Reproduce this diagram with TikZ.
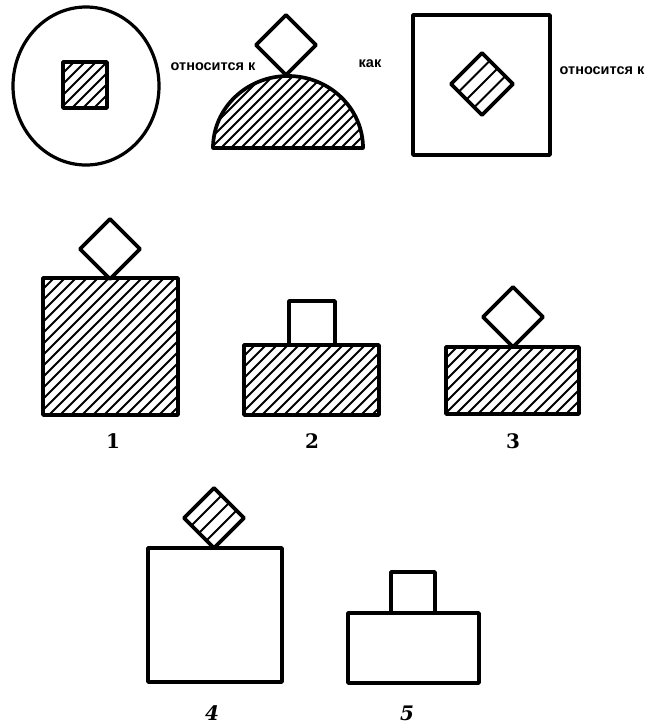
\documentclass[tikz,border=0pt]{standalone}
\usepackage{fontspec}
\setmainfont{DejaVu Serif}
\newfontfamily\cyrfont{Liberation Sans}
\usetikzlibrary{calc}
\tikzset{
  outline/.style={line width=3.7pt, line join=round},
  thinout/.style={line width=3.2pt},
  hatchline/.style={line width=1.9pt},
  stripeline/.style={line width=1.9pt},
  wordlabel/.style={font=\cyrfont\bfseries\fontsize{14.5}{15}\selectfont, inner sep=0pt},
  numlabel/.style={font=\bfseries\fontsize{20}{20}\selectfont, inner sep=0pt},
  numlabelit/.style={font=\bfseries\itshape\fontsize{20}{20}\selectfont, inner sep=0pt},
}
% hatch lines "////" inside box xmin ymin xmax ymax with horizontal spacing
\newcommand{\hatchlines}[5]{%
  \pgfmathsetmacro{\hstart}{#1-(#4-#2)}%
  \pgfmathsetmacro{\hnext}{#1-(#4-#2)+#5}%
  \foreach \t in {\hstart,\hnext,...,#3}{%
    \draw[hatchline] (\t,#4) -- ++({#4-#2},{#2-#4});
  }%
}
% diamond corners
\newcommand{\diamcoords}[4]{%
  \coordinate (#1-L) at ({#2-#4},#3);
  \coordinate (#1-T) at (#2,{#3-#4});
  \coordinate (#1-R) at ({#2+#4},#3);
  \coordinate (#1-B) at (#2,{#3+#4});
}
\newcommand{\stripes}[1]{%
  \foreach \k in {1,2,3}{%
    \draw[stripeline] ($(#1-L)!\k/4!(#1-B)$) -- ($(#1-T)!\k/4!(#1-R)$);
  }%
}
\begin{document}
\begin{tikzpicture}[x=1pt,y=-1pt]
\useasboundingbox (0,0) rectangle (649,726);

% ---------- top row ----------
% circle with hatched square
\draw[thinout] (86,86) ellipse [x radius=73, y radius=79];
\begin{scope}
  \clip (63,62) rectangle (107,108);
  \hatchlines{63}{62}{107}{108}{11}
\end{scope}
\draw[outline] (63,62) rectangle (107,108);

\node[wordlabel] (t1) at (213,67) {относится к};

% half disc with diamond
\begin{scope}
  \clip (213,148) arc[start angle=180, end angle=360, x radius=75, y radius=72] -- cycle;
  \hatchlines{213}{76}{363}{148}{10}
\end{scope}
\draw[outline] (213,148) arc[start angle=180, end angle=360, x radius=75, y radius=72] -- cycle;
\diamcoords{d0}{286}{45}{30}
\draw[outline] (d0-L) -- (d0-T) -- (d0-R) -- (d0-B) -- cycle;

\node[wordlabel] (t2) at (370,64) {как};

% square with striped diamond
\draw[outline] (413,15) rectangle (550,155);
\diamcoords{d1}{482}{84}{31}
\stripes{d1}
\draw[outline] (d1-L) -- (d1-T) -- (d1-R) -- (d1-B) -- cycle;

\node[wordlabel] (t3) at (602,71) {относится к};

% ---------- second row ----------
% figure 1
\begin{scope}
  \clip (43,278) rectangle (178,415);
  \hatchlines{43}{278}{178}{415}{11}
\end{scope}
\draw[outline] (43,278) rectangle (178,415);
\diamcoords{f1}{110}{249}{30}
\draw[outline] (f1-L) -- (f1-T) -- (f1-R) -- (f1-B) -- cycle;
\node[numlabel] (n1) at (113,441) {1};

% figure 2
\begin{scope}
  \clip (244,345) rectangle (379,415);
  \hatchlines{244}{345}{379}{415}{11}
\end{scope}
\draw[outline] (244,345) rectangle (379,415);
\draw[outline] (289,345) -- (289,301) -- (335,301) -- (335,345);
\node[numlabel] (n2) at (312,441) {2};

% figure 3
\begin{scope}
  \clip (446,347) rectangle (579,414);
  \hatchlines{446}{347}{579}{414}{11}
\end{scope}
\draw[outline] (446,347) rectangle (579,414);
\diamcoords{f3}{513}{317}{30}
\draw[outline] (f3-L) -- (f3-T) -- (f3-R) -- (f3-B) -- cycle;
\node[numlabel] (n3) at (513,441) {3};

% ---------- third row ----------
% figure 4
\draw[outline] (148,548) rectangle (282,682);
\diamcoords{f4}{214}{518}{30}
\stripes{f4}
\draw[outline] (f4-L) -- (f4-T) -- (f4-R) -- (f4-B) -- cycle;
\node[numlabelit] (n4) at (212,713) {4};

% figure 5
\draw[outline] (348,613) rectangle (479,683);
\draw[outline] (391,613) -- (391,572) -- (435,572) -- (435,613);
\node[numlabelit] (n5) at (407,713) {5};
\end{tikzpicture}
\end{document}
